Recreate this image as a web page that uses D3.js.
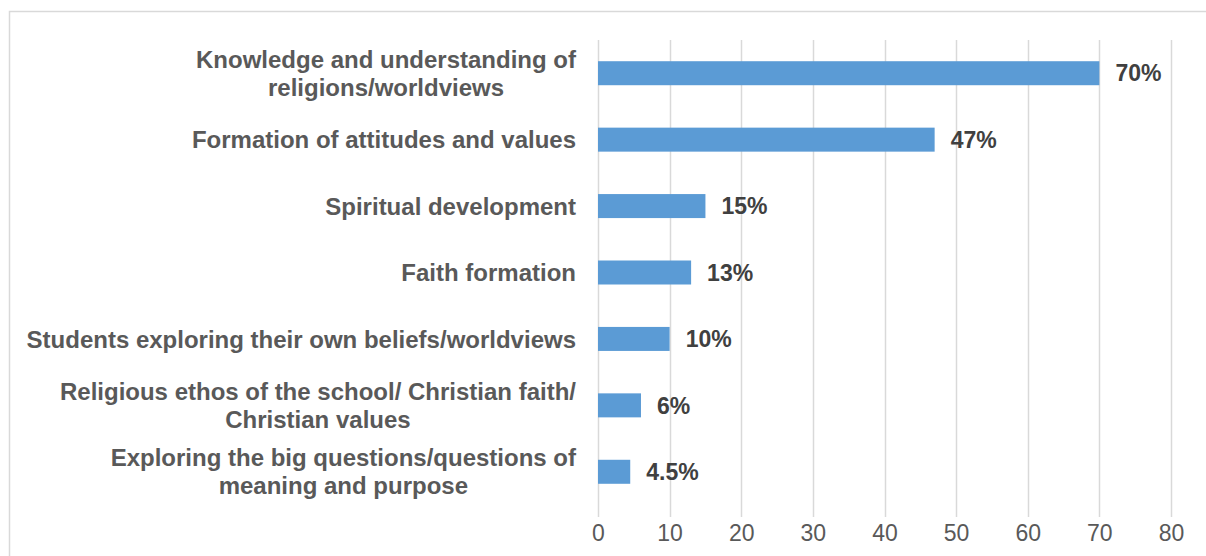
<!DOCTYPE html>
<html><head><meta charset="utf-8">
<script src="https://cdn.jsdelivr.net/npm/d3@7"></script>
<style>
html,body{margin:0;padding:0;background:#fff;}
svg{display:block;font-family:"Liberation Sans",Arial,sans-serif;}
</style></head>
<body>
<svg id="chart" width="1206" height="556"></svg>
<script>
const categories = [
  ["Knowledge and understanding of", "religions/worldviews"],
  ["Formation of attitudes and values"],
  ["Spiritual development"],
  ["Faith formation"],
  ["Students exploring their own beliefs/worldviews"],
  ["Religious ethos of the school/ Christian faith/", "Christian values"],
  ["Exploring the big questions/questions of", "meaning and purpose"]
];
const values = [70, 47, 15, 13, 10, 6, 4.5];
const valueLabels = ["70%", "47%", "15%", "13%", "10%", "6%", "4.5%"];
const ticks = [0, 10, 20, 30, 40, 50, 60, 70, 80];

const svg = d3.select("#chart");
svg.append("rect").attr("x", 9.5).attr("y", 11.5).attr("width", 1220).attr("height", 600)
  .attr("fill", "#fff").attr("stroke", "#d9d9d9").attr("stroke-width", 1.5);

const x = d3.scaleLinear().domain([0, 80]).range([598, 1171]);
const band = d3.scaleBand().domain(d3.range(categories.length)).range([40, 505]);

// gridlines
svg.append("g").selectAll("line").data(ticks).join("line")
  .attr("x1", d => Math.round(x(d)) + 0.5).attr("x2", d => Math.round(x(d)) + 0.5)
  .attr("y1", 40).attr("y2", 517)
  .attr("stroke", "#d9d9d9").attr("stroke-width", 1.5);

// axis
const axis = d3.axisBottom(x).tickValues(ticks).tickSize(0).tickPadding(0);
const ag = svg.append("g").attr("transform", "translate(0,525)").call(axis);
ag.select(".domain").remove();
ag.selectAll("text").attr("font-size", 23).attr("fill", "#595959")
  .attr("font-family", "Liberation Sans, Arial, sans-serif").attr("dy", "0.71em");

// bars
svg.append("g").selectAll("rect").data(values).join("rect")
  .attr("x", x(0)).attr("y", (d, i) => band(i) + band.bandwidth() / 2 - 12)
  .attr("width", d => x(d) - x(0)).attr("height", 24)
  .attr("fill", "#5b9bd5");

// value labels
svg.append("g").selectAll("text").data(values).join("text")
  .attr("x", d => x(d) + 16).attr("y", (d, i) => band(i) + band.bandwidth() / 2)
  .attr("dy", "0.36em").attr("font-size", 23).attr("font-weight", "bold").attr("fill", "#404040")
  .text((d, i) => valueLabels[i]);

// category labels
const lg = svg.append("g");
categories.forEach((lines, i) => {
  const cy = band(i) + band.bandwidth() / 2;
  const lh = 28;
  const g = lg.append("g");
  const texts = lines.map((t, k) => g.append("text")
    .attr("font-size", 24).attr("font-weight", "bold").attr("fill", "#595959")
    .attr("text-anchor", "middle")
    .attr("y", cy + (k - (lines.length - 1) / 2) * lh).attr("dy", "0.36em").text(t));
  const w = d3.max(texts, t => t.node().getComputedTextLength());
  texts.forEach(t => t.attr("x", 576 - w / 2));
});
</script>
</body></html>
